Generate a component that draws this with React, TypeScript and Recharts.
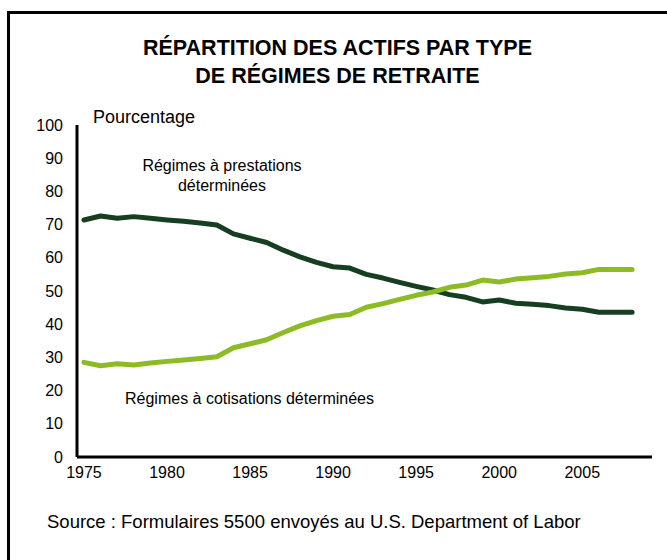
import { LineChart, Line, XAxis, YAxis } from 'recharts';

// Years on the x axis
const years = [
  1975, 1976, 1977, 1978, 1979, 1980, 1981, 1982, 1983, 1984, 1985, 1986,
  1987, 1988, 1989, 1990, 1991, 1992, 1993, 1994, 1995, 1996, 1997, 1998,
  1999, 2000, 2001, 2002, 2003, 2004, 2005, 2006, 2007, 2008,
];

// Régimes à prestations déterminées (dark line)
const prestations = [
  71.4, 72.6, 71.9, 72.4, 71.9, 71.4, 71.0, 70.5, 69.9, 67.2, 65.9, 64.6,
  62.3, 60.3, 58.6, 57.3, 56.9, 55.0, 53.9, 52.6, 51.4, 50.3, 48.9, 48.1,
  46.7, 47.3, 46.3, 46.0, 45.6, 44.9, 44.5, 43.6, 43.6, 43.6,
];

// Régimes à cotisations déterminées (light line)
const cotisations = [
  28.5, 27.5, 28.1, 27.7, 28.3, 28.8, 29.2, 29.7, 30.2, 32.9, 34.1, 35.3,
  37.5, 39.5, 41.1, 42.4, 42.9, 45.1, 46.2, 47.5, 48.7, 49.7, 51.1, 51.8,
  53.3, 52.7, 53.6, 54.0, 54.4, 55.1, 55.5, 56.5, 56.5, 56.5,
];

const xTicks = [1975, 1980, 1985, 1990, 1995, 2000, 2005];
const yTicks = [0, 10, 20, 30, 40, 50, 60, 70, 80, 90, 100];

const FONT = '"Liberation Sans", Arial, sans-serif';

const data = years.map((year, i) => ({
  year,
  prestations: prestations[i],
  cotisations: cotisations[i],
}));

export default function App() {
  return (
    <div
      style={{
        position: 'absolute',
        left: 0,
        top: 0,
        width: 667,
        height: 560,
        background: '#fff',
        fontFamily: FONT,
        color: '#000',
      }}
    >
      {/* frame */}
      <div
        style={{
          position: 'absolute',
          left: 7,
          top: 11,
          width: 660,
          height: 549,
          borderLeft: '3px solid #000',
          borderTop: '3px solid #000',
          boxSizing: 'border-box',
        }}
      />
      <div
        style={{
          position: 'absolute',
          left: 4,
          width: 667,
          top: 34,
          textAlign: 'center',
          fontWeight: 'bold',
          fontSize: 21.5,
          lineHeight: '28px',
        }}
      >
        RÉPARTITION DES ACTIFS PAR TYPE
        <br />
        DE RÉGIMES DE RETRAITE
      </div>

      <LineChart
        width={667}
        height={560}
        data={data}
        margin={{ top: 125, right: 15, left: 37, bottom: 73 }}
        style={{ position: 'absolute', left: 0, top: 0 }}
      >
        <XAxis
          dataKey="year"
          type="number"
          domain={[1974.58, 2009.2]}
          ticks={xTicks}
          allowDataOverflow
          height={30}
          tickLine={false}
          tickSize={0}
          tickMargin={10}
          axisLine={{ stroke: '#000', strokeWidth: 3 }}
          tick={{ fill: '#000', fontSize: 16, fontFamily: FONT }}
        />
        <YAxis
          type="number"
          domain={[0, 100]}
          ticks={yTicks}
          width={40}
          tickLine={false}
          tickSize={0}
          tickMargin={14}
          axisLine={{ stroke: '#000', strokeWidth: 3 }}
          tick={{ fill: '#000', fontSize: 16, fontFamily: FONT }}
        />
        <Line
          dataKey="prestations"
          type="linear"
          stroke="#153f20"
          strokeWidth={5}
          strokeLinejoin="round"
          strokeLinecap="round"
          dot={false}
          isAnimationActive={false}
        />
        <Line
          dataKey="cotisations"
          type="linear"
          stroke="#8dbb25"
          strokeWidth={5}
          strokeLinejoin="round"
          strokeLinecap="round"
          dot={false}
          isAnimationActive={false}
        />
      </LineChart>

      <div style={{ position: 'absolute', left: 93, top: 107, fontSize: 18 }}>
        Pourcentage
      </div>
      <div
        style={{
          position: 'absolute',
          left: 122,
          width: 200,
          top: 156,
          textAlign: 'center',
          fontSize: 16,
          lineHeight: '20px',
        }}
      >
        Régimes à prestations
        <br />
        déterminées
      </div>
      <div style={{ position: 'absolute', left: 125, top: 390, fontSize: 16 }}>
        Régimes à cotisations déterminées
      </div>
      <div style={{ position: 'absolute', left: 47, top: 511, fontSize: 18.5 }}>
        Source : Formulaires 5500 envoyés au U.S. Department of Labor
      </div>
    </div>
  );
}
